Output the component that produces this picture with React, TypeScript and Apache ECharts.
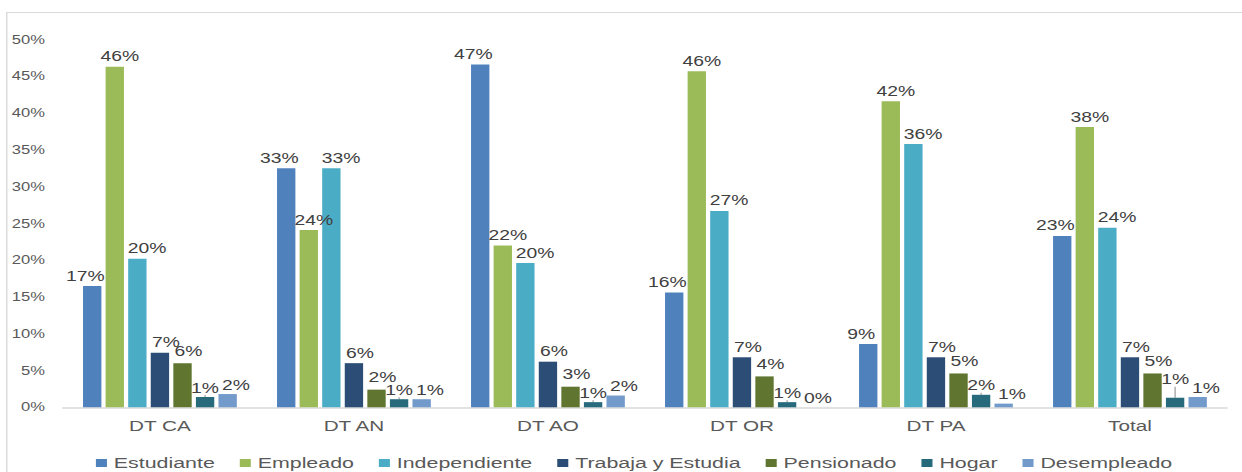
import React, { useEffect, useRef } from "react";
import * as echarts from "echarts";

const categories = ["DT CA", "DT AN", "DT AO", "DT OR", "DT PA", "Total"];
const seriesNames = [
  "Estudiante",
  "Empleado",
  "Independiente",
  "Trabaja y Estudia",
  "Pensionado",
  "Hogar",
  "Desempleado",
];
const estudiante = [16.5, 32.5, 46.6, 15.6, 8.6, 23.3];
const empleado = [46.3, 24.1, 22.0, 45.7, 41.6, 38.1];
const independiente = [20.2, 32.5, 19.6, 26.7, 35.8, 24.4];
const trabajaEstudia = [7.4, 6.0, 6.2, 6.8, 6.8, 6.8];
const pensionado = [6.0, 2.4, 2.8, 4.2, 4.6, 4.6];
const hogar = [1.4, 1.1, 0.7, 0.7, 1.7, 1.3];
const desempleado = [1.8, 1.1, 1.6, 0.0, 0.5, 1.4];
const yTicks = [0, 5, 10, 15, 20, 25, 30, 35, 40, 45, 50];

const seriesData = [estudiante, empleado, independiente, trabajaEstudia, pensionado, hogar, desempleado];
const colors = ["#4F81BD", "#9BBB59", "#4BACC6", "#2C4D75", "#5F7530", "#276A7C", "#729ACA"];
const labelDx = [-5, 3.6, 7, 4.3, 4.3, 0.5, 6];
const labelDist = [3, 3, 3, 3, 5, 2, 2];

const SX = 1.38;
const W = 1242 / SX;
const H = 472;

export default function App() {
  const ref = useRef<HTMLDivElement>(null);
  useEffect(() => {
    if (!ref.current) return;
    const chart = echarts.init(ref.current, undefined, { renderer: "svg" });
    const font = "'Liberation Sans', Arial, sans-serif";
    chart.setOption({
      animation: false,
      backgroundColor: "#ffffff",
      color: colors,
      textStyle: { fontFamily: font },
      graphic: [
        {
          type: "rect",
          shape: { x: 4.9, y: 12.5, width: 2000, height: 1000 },
          style: { fill: "none", stroke: "#d9d9d9", lineWidth: 1 },
          silent: true,
        },
      ],
      grid: { left: 45.6, right: W - 889.1, top: 39.5, bottom: H - 407.3, containLabel: false },
      legend: {
        data: seriesNames,
        left: 64.5,
        top: 450,
        itemWidth: 8,
        itemHeight: 8,
        itemGap: 18,
        icon: "rect",
        textStyle: { fontFamily: font, fontSize: 15.5, color: "#595959" },
      },
      xAxis: {
        type: "category",
        data: categories,
        axisLine: { show: true, lineStyle: { color: "#d9d9d9", width: 1.5 } },
        axisTick: { show: false },
        axisLabel: { fontFamily: font, fontSize: 15, color: "#595959", margin: 11 },
      },
      yAxis: {
        type: "value",
        min: yTicks[0],
        max: yTicks[yTicks.length - 1],
        interval: 5,
        axisLine: { show: false },
        axisTick: { show: false },
        splitLine: { show: false },
        axisLabel: {
          fontFamily: font,
          fontSize: 12,
          color: "#595959",
          margin: 13,
          formatter: (v: number) => `${v}%`,
        },
      },
      series: seriesNames.map((name, i) => ({
        name,
        type: "bar",
        data: seriesData[i],
        barWidth: 13.3,
        barGap: "23%",
        itemStyle: { color: colors[i] },
        label: {
          show: true,
          position: "top",
          distance: labelDist[i],
          offset: [labelDx[i], 0],
          fontFamily: font,
          fontSize: 14,
          color: "#404040",
          formatter: (p: any) => `${Math.round(p.value)}%`,
        },
        ...(i === 5
          ? {
              labelLine: { show: true, lineStyle: { color: "#a6a6a6", width: 1 } },
              labelLayout: (p: any) => (p.dataIndex === categories.length - 1 ? { dy: -9 } : {}),
            }
          : {}),
      })),
    });
    return () => chart.dispose();
  }, []);
  return (
    <div
      style={{
        position: "absolute",
        left: 0,
        top: 0,
        width: 1242,
        height: 472,
        overflow: "hidden",
        background: "#ffffff",
      }}
    >
      <div
        ref={ref}
        style={{
          width: W,
          height: H,
          transform: `scaleX(${SX})`,
          transformOrigin: "0 0",
        }}
      />
    </div>
  );
}
